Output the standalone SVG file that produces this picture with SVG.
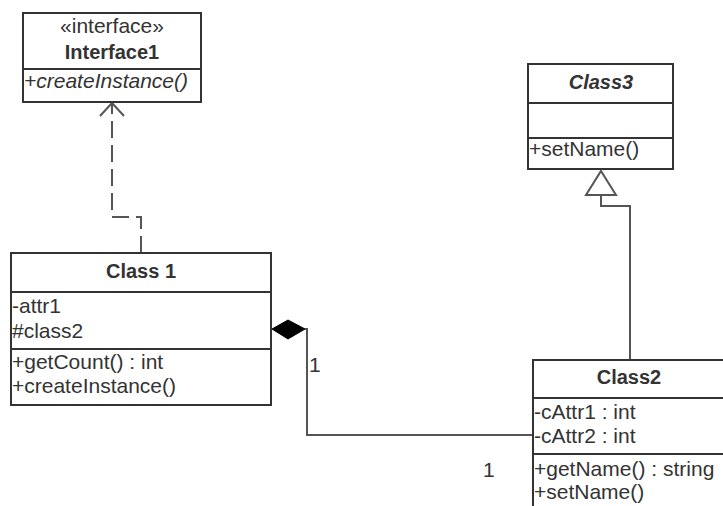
<svg xmlns="http://www.w3.org/2000/svg" width="723" height="506" viewBox="0 0 723 506">
<style>
  .box{fill:#fff;stroke:#333;stroke-width:2}
  .sep{stroke:#333;stroke-width:2}
  .t{font-family:"Liberation Sans",Arial,sans-serif;font-size:21px;fill:#333}
  .b{font-weight:bold;font-size:20px;text-anchor:middle}
  .c{text-anchor:middle}
  .i{font-style:italic}
  .ln{fill:none;stroke:#555;stroke-width:2}
</style>
<rect width="723" height="506" fill="#fff"/>
<g id="connectors">
  <path class="ln" d="M141,253 V217 H112 V104" stroke-dasharray="17 7"/>
  <path class="ln" d="M100,116 L112,103 L124,116"/>
  <path class="ln" d="M630,360 V206 H601 V195"/>
  <polygon points="601,171 616,195 586,195" fill="#fff" stroke="#555" stroke-width="2"/>
  <path class="ln" d="M305,329 H307 V435 H533"/>
  <polygon points="272,329 288,320 305,329 288,339" fill="#000" stroke="#000" stroke-width="1"/>
  <text class="t" x="309" y="372">1</text>
  <text class="t" x="483" y="477">1</text>
</g>
<g id="interface1">
  <rect class="box" x="23" y="13" width="178" height="89"/>
  <line class="sep" x1="23" y1="69" x2="201" y2="69"/>
  <text class="t c" x="112" y="33">«interface»</text>
  <text class="t b" x="112" y="59">Interface1</text>
  <text class="t i" x="24" y="88">+createInstance()</text>
</g>
<g id="class1">
  <rect class="box" x="11" y="253" width="260" height="152"/>
  <line class="sep" x1="11" y1="292" x2="271" y2="292"/>
  <line class="sep" x1="11" y1="349" x2="271" y2="349"/>
  <text class="t b" x="141" y="278">Class 1</text>
  <text class="t" x="12" y="313">-attr1</text>
  <text class="t" x="12" y="338">#class2</text>
  <text class="t" x="12" y="369">+getCount() : int</text>
  <text class="t" x="12" y="393">+createInstance()</text>
</g>
<g id="class3">
  <rect class="box" x="528" y="64" width="145" height="105"/>
  <line class="sep" x1="528" y1="103" x2="673" y2="103"/>
  <line class="sep" x1="528" y1="138" x2="673" y2="138"/>
  <text class="t b i" x="601" y="89">Class3</text>
  <text class="t" x="529" y="156">+setName()</text>
</g>
<g id="class2">
  <rect class="box" x="533" y="360" width="200" height="160"/>
  <line class="sep" x1="533" y1="398" x2="733" y2="398"/>
  <line class="sep" x1="533" y1="454" x2="733" y2="454"/>
  <text class="t b" x="629" y="384">Class2</text>
  <text class="t" x="534" y="419">-cAttr1 : int</text>
  <text class="t" x="534" y="443">-cAttr2 : int</text>
  <text class="t" x="534" y="476">+getName() : string</text>
  <text class="t" x="534" y="499">+setName()</text>
</g>
</svg>
